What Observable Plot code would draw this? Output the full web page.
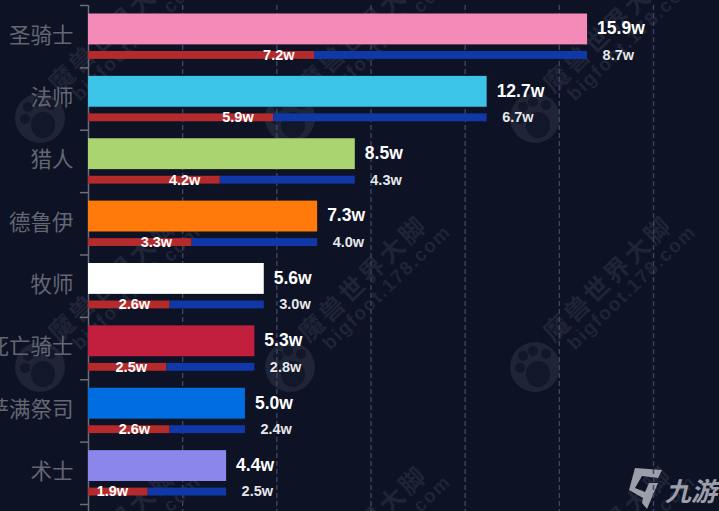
<!DOCTYPE html>
<html><head><meta charset="utf-8">
<style>html,body{margin:0;padding:0;background:#0d1224;overflow:hidden}svg{display:block}</style>
<script src="https://cdn.jsdelivr.net/npm/d3@7"></script>
<script src="https://cdn.jsdelivr.net/npm/@observablehq/plot@0.6"></script>
</head><body><div id="chart"></div>
<script>
const classes = ["圣骑士","法师","猎人","德鲁伊","牧师","死亡骑士","萨满祭司","术士"];
const totals  = [15.9,12.7,8.5,7.3,5.6,5.3,5.0,4.4];
const redPart = [7.2,5.9,4.2,3.3,2.6,2.5,2.6,1.9];
const bluePart= [8.7,6.7,4.3,4.0,3.0,2.8,2.4,2.5];
const barColors = ["#f48ab8","#3cc3e8","#a9d470","#ff7a0a","#ffffff","#c11f3d","#006ee0","#8a86ea"];
const gridTicks = [3,6,9,12,15,18];
const rows = classes.map((c,i)=>({c,total:totals[i],red:redPart[i],blue:bluePart[i],color:barColors[i]}));
const fmt = v => v.toFixed(1)+"w";
const font = '"Liberation Sans",Arial,sans-serif';

// Decorative background watermark and corner logo (not data)
function watermark(index, scales, values, dims){
  const g = d3.create("svg:g").attr("text-anchor","start");
  const wm = "#1f2437";
  const bg = "#121729";
  for (const py of [118,367,617]) for (const px of [40,290,535]) {
    const t = g.append("g").attr("transform",`translate(${px},${py})`);
    t.append("circle").attr("r",25).attr("fill",wm);
    t.append("ellipse").attr("cx",3).attr("cy",7).attr("rx",12).attr("ry",13).attr("fill",bg);
    for (const [x,y] of [[-15,1],[-12,-11],[-2,-16],[11,-13]])
      t.append("circle").attr("cx",x).attr("cy",y).attr("r",5).attr("fill",bg);
    const r = t.append("g").attr("transform","rotate(-44)");
    r.append("text").text("魔兽世界大脚").attr("x",30).attr("y",-4)
      .attr("font-size",25).attr("font-weight",700).attr("letter-spacing",3).attr("fill",wm)
      .attr("font-family",'"Noto Sans CJK SC"');
    r.append("text").text("bigfoot.178.com").attr("x",40).attr("y",16)
      .attr("font-size",19).attr("font-weight",700).attr("letter-spacing",1.6).attr("fill",wm)
      .attr("font-family",font);
  }
  const logo = g.append("g").attr("fill","#9b9fa9");
  logo.append("path").attr("d","M635 468L662 470L658 478L642 476L635 488L645 492L649 483L658 483L647 509L642 503L643 498L629 490Z");
  logo.append("text").text("九游").attr("x",665).attr("y",501).attr("font-size",26)
    .attr("font-weight",700).attr("font-style","italic").attr("font-family",'"Noto Sans CJK SC"');
  return g.node();
}

const band = 499/8;
const chart = Plot.plot({
  width:719, height:511,
  marginLeft:88, marginRight:66, marginTop:5, marginBottom:7,
  style:{background:"#0d1224",fontFamily:font},
  x:{domain:[0,18],axis:null},
  y:{domain:classes,padding:0,round:false,label:null},
  marks:[
    watermark,
    Plot.ruleX(gridTicks,{stroke:"#3d4360",strokeWidth:1.4,strokeDasharray:"5 3",insetBottom:-7}),
    Plot.ruleX([0],{stroke:"#6a6e78",strokeWidth:1.5,insetBottom:-7}),
    Plot.ruleY(classes,{y:d=>d,dy:-band/2,x1:()=>-8/31.4,x2:()=>0,stroke:"#6a6e78",strokeWidth:1.5}),
    Plot.ruleY(classes.slice(-1),{y:d=>d,dy:band/2,x1:()=>-8/31.4,x2:()=>0,stroke:"#6a6e78",strokeWidth:1.5}),
    Plot.axisY({tickSize:0,tickPadding:15,fontSize:21.5,dy:-1,fill:"#636772",fontFamily:'"Noto Sans CJK SC"',label:null}),
    Plot.barX(rows,{x:"total",y:"c",fill:"color",insetTop:8.5,insetBottom:23}),
    Plot.barX(rows,{x1:()=>0,x2:"red",y:"c",fill:"#b52a2a",insetTop:46,insetBottom:8.5}),
    Plot.barX(rows,{x1:"red",x2:"total",y:"c",fill:"#1138a8",insetTop:46,insetBottom:8.5}),
    Plot.text(rows,{x:"total",y:"c",text:d=>fmt(d.total),dx:9.5,dy:-8,textAnchor:"start",fill:"#fff",fontSize:17.5,fontWeight:700}),
    Plot.text(rows,{x:"red",y:"c",text:d=>fmt(d.red),dx:-20,dy:18.5,textAnchor:"end",fill:"#fff",fontSize:14.5,fontWeight:700}),
    Plot.text(rows,{x:"total",y:"c",text:d=>fmt(d.blue),dx:15,dy:18.5,textAnchor:"start",fill:"#e6e7ea",fontSize:14.5,fontWeight:700})
  ]
});
document.getElementById("chart").append(chart);
</script></body></html>
